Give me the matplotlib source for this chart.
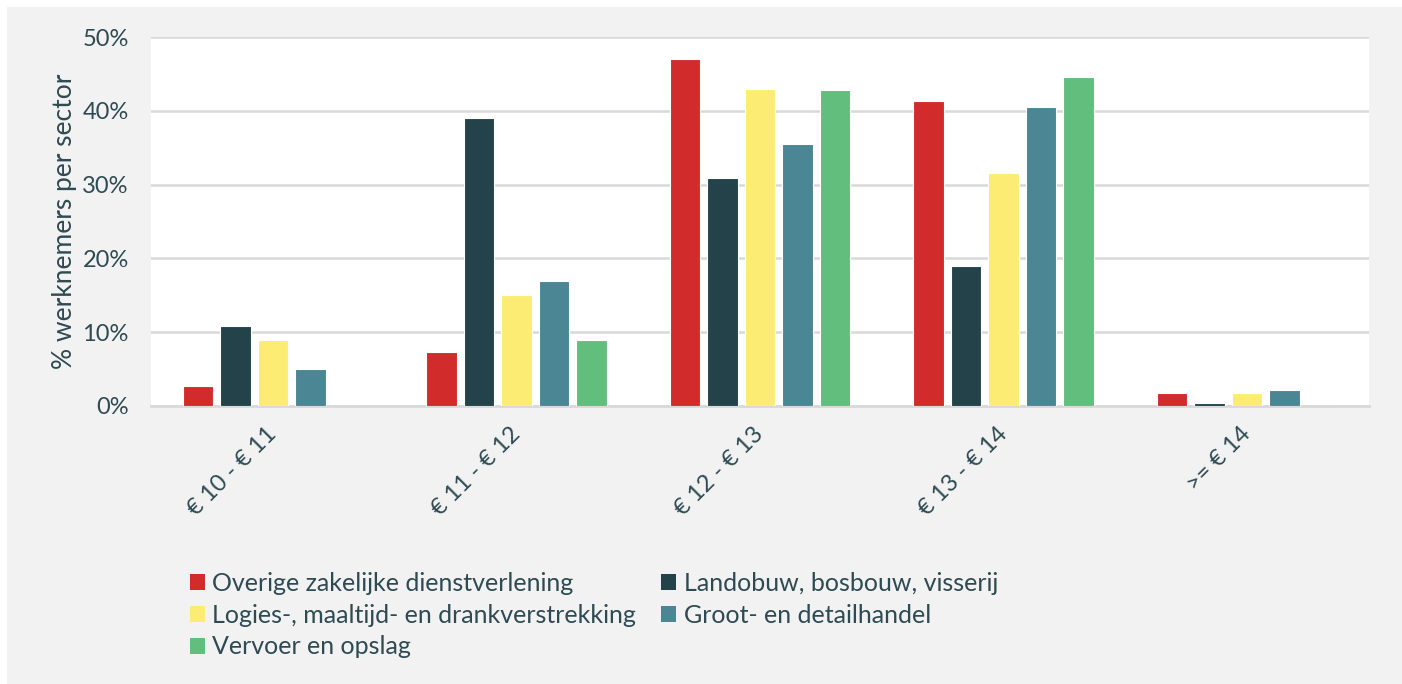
import matplotlib
matplotlib.use("Agg")
import matplotlib.pyplot as plt
import numpy as np
from matplotlib.patches import Rectangle, Patch
from matplotlib.ticker import PercentFormatter

plt.rcParams['font.family'] = ['Lato', 'DejaVu Sans']

categories = ['€ 10 - € 11', '€ 11 - € 12', '€ 12 - € 13', '€ 13 - € 14', '>= € 14']
sectors = ['Overige zakelijke dienstverlening', 'Landobuw, bosbouw, visserij',
           'Logies-, maaltijd- en drankverstrekking', 'Groot- en detailhandel',
           'Vervoer en opslag']
overige = [2.7, 7.3, 47.0, 41.3, 1.8]
landbouw = [10.8, 39.0, 30.9, 19.0, 0.4]
logies = [8.9, 15.0, 43.0, 31.6, 1.8]
groothandel = [5.0, 16.9, 35.5, 40.5, 2.2]
vervoer = [0.0, 8.9, 42.8, 44.6, 0.0]
series = [overige, landbouw, logies, groothandel, vervoer]
colors = ['#d22b2b', '#24424a', '#fdec74', '#4a8693', '#62be7c']

text_col = '#2e4a52'
grid_col = '#d9d9d9'

fig = plt.figure(figsize=(14.02, 6.84), dpi=100)
fig.patch.set_facecolor('white')
fig.patches.append(Rectangle((7 / 1402, 0), 1, 1 - 7 / 684, transform=fig.transFigure,
                             facecolor='#f2f2f2', edgecolor='none', zorder=-10))

ax = fig.add_axes([151 / 1402, 1 - 406 / 684, (1369 - 151) / 1402, (406 - 37) / 684])
ax.set_facecolor('white')

x = np.arange(len(categories))
step = 0.154
width = 0.125
for i, (vals, col) in enumerate(zip(series, colors)):
    ax.bar(x + (i - 2) * step, vals, width, color=col, edgecolor='white',
           linewidth=0.8, zorder=3)

ax.set_xlim(-0.5, len(categories) - 0.5)
ax.set_ylim(0, 50)
ax.set_yticks([0, 10, 20, 30, 40, 50])
ax.yaxis.set_major_formatter(PercentFormatter(decimals=0))
ax.grid(axis='y', color=grid_col, linewidth=1.8, zorder=0)
for s in ['top', 'right', 'left']:
    ax.spines[s].set_visible(False)
ax.spines['bottom'].set_color(grid_col)
ax.spines['bottom'].set_linewidth(2)
ax.tick_params(axis='both', length=0, colors=text_col, labelsize=17)
ax.tick_params(axis='y', pad=16)
ax.set_xticks(x)
ax.set_xticklabels(categories, rotation=45, ha='right', va='center',
                   rotation_mode='anchor')
ax.tick_params(axis='x', pad=18)
ax.set_ylabel('% werknemers per sector', color=text_col, fontsize=19, labelpad=4)

handles = [Patch(facecolor=c, edgecolor='none') for c in colors]
order = [0, 2, 4, 1, 3]
fig.legend([handles[k] for k in order], [sectors[k] for k in order],
           loc='upper left', bbox_to_anchor=(190 / 1402, 1 - 572 / 684), ncol=2,
           frameon=False, fontsize=18, labelcolor=text_col, handlelength=0.6,
           handleheight=0.6, handletextpad=0.3, labelspacing=0.35,
           columnspacing=1.0, borderaxespad=0, borderpad=0)

fig.savefig('out.png', dpi=100, facecolor=fig.get_facecolor())
